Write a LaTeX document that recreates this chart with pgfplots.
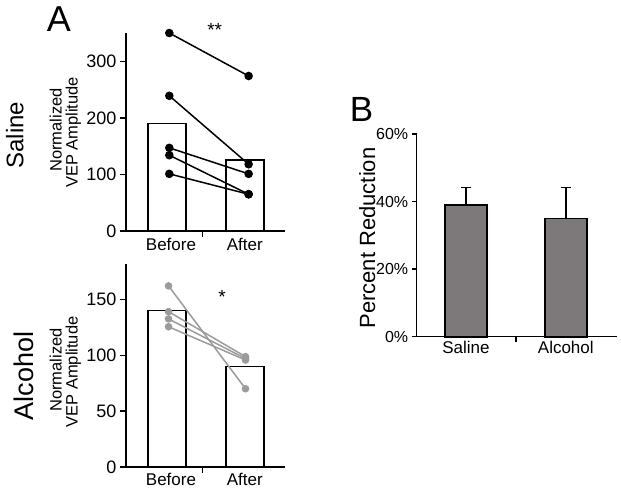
\documentclass[border=0pt]{standalone}
\usepackage{fontspec}
\setmainfont{Liberation Sans}
\usepackage{pgfplots}
\pgfplotsset{compat=1.18}
\definecolor{bargray}{RGB}{125,121,122}
\definecolor{ptgray}{RGB}{155,155,155}
\pgfplotsset{
  panel/.style={
    scale only axis, axis lines=left, axis line style={-, line width=1.5pt, black},
    tick align=outside, major tick length=6pt, tick style={line width=1.3pt, black},
    /pgf/number format/assume math mode=true,
    clip=false, ymin=0,
  },
  blackpair/.style={black, line width=1.5pt, mark=*, mark size=3.5pt, mark options={solid, fill=black}},
  graypair/.style={ptgray, line width=1.5pt, mark=*, mark size=3pt, mark options={solid, fill=ptgray, draw=ptgray}},
}
\begin{document}
\begin{tikzpicture}
\useasboundingbox (0,0) rectangle (621pt,-491pt);
% ---------- Saline ----------
\begin{axis}[panel, at={(126pt,-231pt)}, anchor=south west, width=159pt, height=198pt,
  xmin=-0.527, xmax=1.518, ymax=350, ytick={0,100,200,300},
  yticklabel style={font=\fontsize{18}{20}\selectfont},
  xtick={0.46}, xticklabels={},
  extra x ticks={0,1}, extra x tick labels={\hspace{8pt}Before,After},
  extra x tick style={major tick length=0pt, xticklabel style={font=\fontsize{17}{19}\selectfont, yshift=-4pt}}]
\addplot[ybar, bar width=0.49, bar shift=0pt, fill=white, draw=black, line width=1.7pt] coordinates {(0,190) (1,125)};
\addplot[blackpair] coordinates {(0.03,350) (1.05,274)};
\addplot[blackpair] coordinates {(0.03,239) (1.05,118)};
\addplot[blackpair] coordinates {(0.03,147) (1.05,101)};
\addplot[blackpair] coordinates {(0.03,134) (1.05,65)};
\addplot[blackpair] coordinates {(0.03,101) (1.05,65)};
\end{axis}
% ---------- Alcohol ----------
\begin{axis}[panel, at={(126pt,-467pt)}, anchor=south west, width=159pt, height=203pt,
  xmin=-0.527, xmax=1.518, ymax=181.6, ytick={0,50,100,150},
  yticklabel style={font=\fontsize{18}{20}\selectfont},
  xtick={0.46}, xticklabels={},
  extra x ticks={0,1}, extra x tick labels={\hspace{8pt}Before,After},
  extra x tick style={major tick length=0pt, xticklabel style={font=\fontsize{17}{19}\selectfont, yshift=-3pt}}]
\addplot[ybar, bar width=0.49, bar shift=0pt, fill=white, draw=black, line width=1.7pt] coordinates {(0,140) (1,90)};
\addplot[graypair] coordinates {(0.02,162) (1.01,70)};
\addplot[graypair] coordinates {(0.02,139) (1.01,98.7)};
\addplot[graypair] coordinates {(0.02,132.5) (1.01,97)};
\addplot[graypair] coordinates {(0.02,125.5) (1.01,95.7)};
\end{axis}
% ---------- B ----------
\begin{axis}[panel, at={(416.7pt,-336.7pt)}, anchor=south west, width=200pt, height=202.7pt,
  xmin=-0.494, xmax=1.51, ymax=60, ytick={0,20,40,60}, yticklabels={0\%,20\%,40\%,60\%},
  major tick length=5pt,
  yticklabel style={font=\fontsize{16}{18}\selectfont},
  xtick={0.5}, xticklabels={},
  extra x ticks={0,1}, extra x tick labels={Saline,Alcohol},
  extra x tick style={major tick length=0pt, xticklabel style={font=\fontsize{17}{19}\selectfont, yshift=-1pt}}]
\addplot[ybar, bar width=0.42, bar shift=0pt, fill=bargray, draw=black, line width=1.7pt,
  error bars/.cd, y dir=plus, y explicit,
  error bar style={line width=1.5pt, black},
  error mark options={rotate=90, mark size=5pt, line width=1.5pt, black}]
  coordinates {(0,39) +- (0,5.1) (1,35) +- (0,9.1)};
\end{axis}
% ---------- labels ----------
\node[font=\fontsize{36}{40}\selectfont, anchor=base] at (59pt,-31pt) {A};
\node[font=\fontsize{35}{40}\selectfont, anchor=base] at (361.5pt,-121.7pt) {B};
\node[rotate=90, anchor=base, font=\fontsize{24}{28}\selectfont] at (23.3pt,-135pt) {Saline};
\node[rotate=90, anchor=base, font=\fontsize{27}{30}\selectfont] at (33.3pt,-376pt) {Alcohol};
\node[rotate=90, anchor=base, font=\fontsize{16.5}{18}\selectfont] at (61.5pt,-130pt) {Normalized};
\node[rotate=90, anchor=base, font=\fontsize{16.5}{18}\selectfont] at (77.5pt,-132.5pt) {VEP Amplitude};
\node[rotate=90, anchor=base, font=\fontsize{16.5}{18}\selectfont] at (61.5pt,-370pt) {Normalized};
\node[rotate=90, anchor=base, font=\fontsize{16.5}{18}\selectfont] at (77.5pt,-372pt) {VEP Amplitude};
\node[rotate=90, anchor=base, font=\fontsize{22}{26}\selectfont] at (375pt,-238pt) {Percent Reduction};
\node[anchor=base, font=\fontsize{19}{22}\selectfont] at (214.7pt,-36.4pt) {**};
\node[anchor=base, font=\fontsize{19}{22}\selectfont] at (222pt,-303.4pt) {*};
\end{tikzpicture}
\end{document}
